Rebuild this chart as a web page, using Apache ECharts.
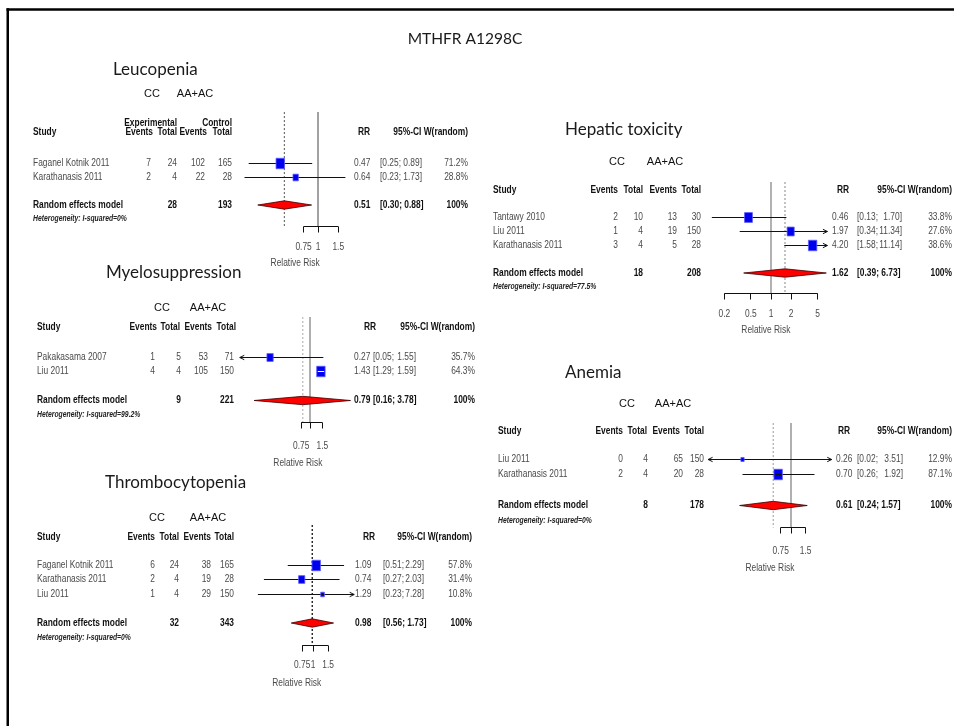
<!DOCTYPE html>
<html>
<head>
<meta charset="utf-8">
<script src="https://cdn.jsdelivr.net/npm/echarts@6/dist/echarts.min.js"></script>
<style>
  html, body { margin: 0; padding: 0; background: #fff; }
  #chart { width: 954px; height: 726px; }
</style>
</head>
<body>
<div id="chart"></div>
<script>
// ---------------- Leucopenia ----------------
const leuStudy = ['Faganel Kotnik 2011', 'Karathanasis 2011'];
const leuEventsCC = [7, 2];
const leuTotalCC = [24, 4];
const leuEventsAA = [102, 22];
const leuTotalAA = [165, 28];
const leuRR = [0.47, 0.64];
const leuLower = [0.25, 0.23];
const leuUpper = [0.89, 1.73];
const leuWeight = [71.2, 28.8];
const leuPooled = [0.51, 0.30, 0.88];      // RR, lower, upper
const leuPooledTotals = [28, 193];
const leuI2 = '0%';
const leuTicks = [0.75, 1, 1.5];
const leuTickLabels = ['0.75', '1', '1.5'];

// ---------------- Myelosuppression ----------------
const myeStudy = ['Pakakasama 2007', 'Liu 2011'];
const myeEventsCC = [1, 4];
const myeTotalCC = [5, 4];
const myeEventsAA = [53, 105];
const myeTotalAA = [71, 150];
const myeRR = [0.27, 1.43];
const myeLower = [0.05, 1.29];
const myeUpper = [1.55, 1.59];
const myeWeight = [35.7, 64.3];
const myePooled = [0.79, 0.16, 3.78];
const myePooledTotals = [9, 221];
const myeI2 = '99.2%';
const myeTicks = [0.75, 1, 1.5];
const myeTickLabels = ['0.75', '', '1.5'];

// ---------------- Thrombocytopenia ----------------
const thrStudy = ['Faganel Kotnik 2011', 'Karathanasis 2011', 'Liu 2011'];
const thrEventsCC = [6, 2, 1];
const thrTotalCC = [24, 4, 4];
const thrEventsAA = [38, 19, 29];
const thrTotalAA = [165, 28, 150];
const thrRR = [1.09, 0.74, 1.29];
const thrLower = [0.51, 0.27, 0.23];
const thrUpper = [2.29, 2.03, 7.28];
const thrWeight = [57.8, 31.4, 10.8];
const thrPooled = [0.98, 0.56, 1.73];
const thrPooledTotals = [32, 343];
const thrI2 = '0%';
const thrTicks = [0.75, 1, 1.5];
const thrTickLabels = ['0.75', '1', '1.5'];

// ---------------- Hepatic toxicity ----------------
const hepStudy = ['Tantawy 2010', 'Liu 2011', 'Karathanasis 2011'];
const hepEventsCC = [2, 1, 3];
const hepTotalCC = [10, 4, 4];
const hepEventsAA = [13, 19, 5];
const hepTotalAA = [30, 150, 28];
const hepRR = [0.46, 1.97, 4.20];
const hepLower = [0.13, 0.34, 1.58];
const hepUpper = [1.70, 11.34, 11.14];
const hepWeight = [33.8, 27.6, 38.6];
const hepPooled = [1.62, 0.39, 6.73];
const hepPooledTotals = [18, 208];
const hepI2 = '77.5%';
const hepTicks = [0.2, 0.5, 1, 2, 5];
const hepTickLabels = ['0.2', '0.5', '1', '2', '5'];

// ---------------- Anemia ----------------
const aneStudy = ['Liu 2011', 'Karathanasis 2011'];
const aneEventsCC = [0, 2];
const aneTotalCC = [4, 4];
const aneEventsAA = [65, 20];
const aneTotalAA = [150, 28];
const aneRR = [0.26, 0.70];
const aneLower = [0.02, 0.26];
const aneUpper = [3.51, 1.92];
const aneWeight = [12.9, 87.1];
const anePooled = [0.61, 0.24, 1.57];
const anePooledTotals = [8, 178];
const aneI2 = '0%';
const aneTicks = [0.75, 1, 1.5];
const aneTickLabels = ['0.75', '', '1.5'];

const groupLabels = ['CC', 'AA+AC'];
const mainTitle = 'MTHFR A1298C';

const panels = [
  {
    title: 'Leucopenia', study: leuStudy, e1: leuEventsCC, n1: leuTotalCC, e2: leuEventsAA, n2: leuTotalAA,
    rr: leuRR, lo: leuLower, hi: leuUpper, w: leuWeight, pooled: leuPooled, totals: leuPooledTotals,
    i2: leuI2, ticks: leuTicks, tickLabels: leuTickLabels, expHeader: true
  },
  {
    title: 'Myelosuppression', study: myeStudy, e1: myeEventsCC, n1: myeTotalCC, e2: myeEventsAA, n2: myeTotalAA,
    rr: myeRR, lo: myeLower, hi: myeUpper, w: myeWeight, pooled: myePooled, totals: myePooledTotals,
    i2: myeI2, ticks: myeTicks, tickLabels: myeTickLabels
  },
  {
    title: 'Thrombocytopenia', study: thrStudy, e1: thrEventsCC, n1: thrTotalCC, e2: thrEventsAA, n2: thrTotalAA,
    rr: thrRR, lo: thrLower, hi: thrUpper, w: thrWeight, pooled: thrPooled, totals: thrPooledTotals,
    i2: thrI2, ticks: thrTicks, tickLabels: thrTickLabels
  },
  {
    title: 'Hepatic toxicity', study: hepStudy, e1: hepEventsCC, n1: hepTotalCC, e2: hepEventsAA, n2: hepTotalAA,
    rr: hepRR, lo: hepLower, hi: hepUpper, w: hepWeight, pooled: hepPooled, totals: hepPooledTotals,
    i2: hepI2, ticks: hepTicks, tickLabels: hepTickLabels
  },
  {
    title: 'Anemia', study: aneStudy, e1: aneEventsCC, n1: aneTotalCC, e2: aneEventsAA, n2: aneTotalAA,
    rr: aneRR, lo: aneLower, hi: aneUpper, w: aneWeight, pooled: anePooled, totals: anePooledTotals,
    i2: aneI2, ticks: aneTicks, tickLabels: aneTickLabels
  }
];

// Placement of each forest plot: x1 = pixel of RR 1, k = pixels per natural-log unit,
// row1 = pixel of first study row, rowH = row pitch; rows/cols/head give text placement.
const layouts = [
  { titleX: 113, titleY: 70, x1: 318, k: 50, xlim: [0.1, 4], row1: 163, rowH: 14,
    rows: { cc: -3.93, exp: -1.86, head: -1.21, top: -2.64, axis: 5.5, tick: 7, label: 8.14 },
    col: { study: 33, ev1: 151, tot1: 177, ev2: 205, tot2: 232, rr: 354, rrHead: 358, ciL: 380, ciR: 422, w: 468, cc: 152, aa: 195 },
    head: [153, 177, 207, 232],
    nullColor: '#444', nullWidth: 1, dotColor: '#555', dotWidth: 1 },
  { titleX: 106, titleY: 273, x1: 310, k: 30.5, xlim: [0.1, 4.5], row1: 357, rowH: 14.5,
    rows: { cc: -2.38, head: -1.07, top: -1.76, axis: 5.55, tick: 7.14, label: 8.31 },
    col: { study: 37, ev1: 155, tot1: 181, ev2: 208, tot2: 234, rr: 354, rrHead: 364, ciL: 373, ciR: 416, w: 475, cc: 162, aa: 208 },
    head: [157, 180, 212, 236],
    nullColor: '#b0b0b0', nullWidth: 2, dotColor: '#aaa', dotWidth: 1 },
  { titleX: 105, titleY: 483, x1: 313, k: 37.5, xlim: [0.14, 3], row1: 565, rowH: 14.5,
    rows: { cc: -2.24, head: -0.93, top: -1.76, axis: 6.52, tick: 7.9, label: 9.14 },
    col: { study: 37, ev1: 155, tot1: 179, ev2: 211, tot2: 234, rr: 355, rrHead: 363, ciL: 383, ciR: 424, w: 472, cc: 157, aa: 208 },
    head: [155, 179, 211, 234],
    nullColor: 'rgba(0,0,0,0)', nullWidth: 1, dotColor: '#111', dotWidth: 1.3 },
  { titleX: 565, titleY: 130, x1: 771, k: 29, xlim: [0.1, 7], row1: 217, rowH: 14,
    rows: { cc: -2.93, head: -0.93, top: -1.5, axis: 6.43, tick: 7.93, label: 9.07 },
    col: { study: 493, ev1: 618, tot1: 643, ev2: 677, tot2: 701, rr: 832, rrHead: 837, ciL: 857, ciR: 902, w: 952, cc: 617, aa: 665 },
    head: [618, 643, 677, 701],
    nullColor: '#999', nullWidth: 1.5, dotColor: '#888', dotWidth: 1 },
  { titleX: 565, titleY: 373, x1: 791, k: 36, xlim: [0.1, 3.1], row1: 459, rowH: 15.5,
    rows: { cc: -2.55, head: -0.81, top: -1.32, axis: 5.39, tick: 6.94, label: 8.03 },
    col: { study: 498, ev1: 623, tot1: 648, ev2: 683, tot2: 704, rr: 836, rrHead: 838, ciL: 857, ciR: 903, w: 952, cc: 627, aa: 673 },
    head: [623, 647, 680, 704],
    nullColor: '#b0b0b0', nullWidth: 2, dotColor: '#999', dotWidth: 1 }
];

const Y_MIN = -5, Y_MAX = 11;
const BOX_H = 10.5;
const FONT = '"Liberation Sans", Arial, sans-serif';
const SX = 0.8;   // condensed table lettering

function txt(x, y, s, font, color, align, sx) {
  return {
    type: 'text', x: x, y: y, scaleX: sx == null ? SX : sx, silent: true,
    style: {
      text: s, x: 0, y: 0, font: font, fill: color,
      align: align || 'left', textAlign: align || 'left',
      verticalAlign: 'middle', textVerticalAlign: 'middle'
    }
  };
}
function seg(x1, y1, x2, y2, color, width, dash) {
  return {
    type: 'line', silent: true,
    shape: { x1: x1, y1: y1, x2: x2, y2: y2 },
    style: { stroke: color, lineWidth: width || 1, lineDash: dash || null }
  };
}
const crisp = v => Math.round(v - 0.5) + 0.5;

function studyRenderer(L, wMax) {
  return function (params, api) {
    const rr = api.value(0), lo = api.value(1), hi = api.value(2), w = api.value(3), row = api.value(4);
    const y = crisp(api.coord([1, row])[1]);
    const xa = api.coord([Math.max(lo, L.xlim[0]), row])[0];
    const xb = api.coord([Math.min(hi, L.xlim[1]), row])[0];
    const xc = api.coord([rr, row])[0];
    const h = BOX_H * Math.sqrt(w / wMax);
    const bw = h * 0.8;
    const inside = xa >= xc - bw / 2 && xb <= xc + bw / 2;
    const ch = [];
    ch.push(seg(xa, y, xb, y, '#111', 1));
    if (lo < L.xlim[0]) {
      ch.push(seg(xa, y, xa + 4.5, y - 2.2, '#111', 1));
      ch.push(seg(xa, y, xa + 4.5, y + 2.2, '#111', 1));
    }
    if (hi > L.xlim[1]) {
      ch.push(seg(xb, y, xb - 4.5, y - 2.2, '#111', 1));
      ch.push(seg(xb, y, xb - 4.5, y + 2.2, '#111', 1));
    }
    ch.push({
      type: 'rect', silent: true,
      shape: { x: xc - bw / 2, y: y - h / 2, width: bw, height: h },
      style: { fill: '#0000f0', stroke: '#5b5bff', lineWidth: 0.8 }
    });
    ch.push(seg(Math.max(xa, xc - bw / 2 + 0.8), y, Math.min(xb, xc + bw / 2 - 0.8), y, inside ? '#ffffff' : '#111', 1));
    return { type: 'group', children: ch };
  };
}

function panelRenderer(P, L) {
  return function (params, api) {
    const Y = r => api.coord([1, r])[1];
    const X = v => api.coord([v, 1])[0];
    const C = L.col, H = L.head;
    const n = P.study.length;
    const rowSum = n + 2, rowHet = n + 3;
    const ch = [];
    const fN = '10.5px ' + FONT, fB = 'bold 10.5px ' + FONT;
    const grey = '#4a4a4a';

    // reference lines: no effect and pooled estimate
    const yTop = Y(L.rows.top), yAx = crisp(Y(L.rows.axis));
    ch.push(seg(X(1), yTop, X(1), yAx, L.nullColor, L.nullWidth));
    ch.push(seg(X(P.pooled[0]), yTop, X(P.pooled[0]), yAx, L.dotColor, L.dotWidth, [2, 2]));

    // pooled diamond
    const ys = Y(rowSum);
    ch.push({
      type: 'polygon', silent: true,
      shape: { points: [[X(P.pooled[1]), ys], [X(P.pooled[0]), ys - 4.2], [X(P.pooled[2]), ys], [X(P.pooled[0]), ys + 4.2]] },
      style: { fill: '#ff0000', stroke: '#3a0000', lineWidth: 0.8 }
    });

    // relative-risk axis
    const t0 = X(P.ticks[0]), t1 = X(P.ticks[P.ticks.length - 1]);
    ch.push(seg(t0, yAx, t1, yAx, '#111', 1));
    P.ticks.forEach((t, i) => {
      const xt = crisp(X(t));
      ch.push(seg(xt, yAx, xt, yAx + 6, '#111', 1));
      if (P.tickLabels[i]) ch.push(txt(X(t), Y(L.rows.tick), P.tickLabels[i], fN, grey, 'center'));
    });
    ch.push(txt(X(Math.sqrt(L.xlim[0] * L.xlim[1])), Y(L.rows.label), 'Relative Risk', fN, grey, 'center'));

    // table header
    ch.push(txt(C.cc, Y(L.rows.cc), groupLabels[0], '11px ' + FONT, '#111', 'center', 1));
    ch.push(txt(C.aa, Y(L.rows.cc), groupLabels[1], '11px ' + FONT, '#111', 'center', 1));
    const yh = Y(L.rows.head);
    if (P.expHeader) {
      ch.push(txt(H[1], Y(L.rows.exp), 'Experimental', fB, '#111', 'right'));
      ch.push(txt(H[3], Y(L.rows.exp), 'Control', fB, '#111', 'right'));
    }
    ch.push(txt(C.study, yh, 'Study', fB, '#111', 'left'));
    ch.push(txt(H[0], yh, 'Events', fB, '#111', 'right'));
    ch.push(txt(H[1], yh, 'Total', fB, '#111', 'right'));
    ch.push(txt(H[2], yh, 'Events', fB, '#111', 'right'));
    ch.push(txt(H[3], yh, 'Total', fB, '#111', 'right'));
    ch.push(txt(C.rrHead, yh, 'RR', fB, '#111', 'left'));
    ch.push(txt(C.w, yh, '95%-CI W(random)', fB, '#111', 'right'));

    // study rows
    for (let i = 0; i < n; i++) {
      const y = Y(i + 1);
      ch.push(txt(C.study, y, P.study[i], fN, grey, 'left'));
      ch.push(txt(C.ev1, y, String(P.e1[i]), fN, grey, 'right'));
      ch.push(txt(C.tot1, y, String(P.n1[i]), fN, grey, 'right'));
      ch.push(txt(C.ev2, y, String(P.e2[i]), fN, grey, 'right'));
      ch.push(txt(C.tot2, y, String(P.n2[i]), fN, grey, 'right'));
      ch.push(txt(C.rr, y, P.rr[i].toFixed(2), fN, grey, 'left'));
      ch.push(txt(C.ciL, y, '[' + P.lo[i].toFixed(2) + ';', fN, grey, 'left'));
      ch.push(txt(C.ciR, y, P.hi[i].toFixed(2) + ']', fN, grey, 'right'));
      ch.push(txt(C.w, y, P.w[i].toFixed(1) + '%', fN, grey, 'right'));
    }

    // pooled row
    ch.push(txt(C.study, ys, 'Random effects model', fB, '#111', 'left'));
    ch.push(txt(C.tot1, ys, String(P.totals[0]), fB, '#111', 'right'));
    ch.push(txt(C.tot2, ys, String(P.totals[1]), fB, '#111', 'right'));
    ch.push(txt(C.rr, ys, P.pooled[0].toFixed(2), fB, '#111', 'left'));
    ch.push(txt(C.ciL, ys, '[' + P.pooled[1].toFixed(2) + '; ' + P.pooled[2].toFixed(2) + ']', fB, '#111', 'left'));
    ch.push(txt(C.w, ys, '100%', fB, '#111', 'right'));
    ch.push(txt(C.study, Y(rowHet), 'Heterogeneity: I-squared=' + P.i2, 'italic bold 8.5px ' + FONT, '#222', 'left'));

    return { type: 'group', children: ch };
  };
}

const grids = [], xAxes = [], yAxes = [], series = [];
const titleGraphics = [];
panels.forEach((P, idx) => {
  const L = layouts[idx];
  const left = L.x1 + L.k * Math.log(L.xlim[0]);
  const width = L.k * Math.log(L.xlim[1] / L.xlim[0]);
  const top = L.row1 + (Y_MIN - 1) * L.rowH;
  const height = (Y_MAX - Y_MIN) * L.rowH;
  grids.push({ left: left, top: top, width: width, height: height, containLabel: false, outerBoundsMode: 'none', show: false });
  xAxes.push({ type: 'log', logBase: 10, gridIndex: idx, min: L.xlim[0], max: L.xlim[1], show: false });
  yAxes.push({ type: 'value', gridIndex: idx, min: Y_MIN, max: Y_MAX, inverse: true, show: false });
  const wMax = Math.max.apply(null, P.w);
  series.push({
    type: 'custom', xAxisIndex: idx, yAxisIndex: idx, clip: false, silent: true,
    renderItem: panelRenderer(P, L),
    encode: { x: [0, 1, 2], y: 3 },
    data: [[P.pooled[0], P.pooled[1], P.pooled[2], P.study.length + 2]],
    z: 2
  });
  series.push({
    type: 'custom', xAxisIndex: idx, yAxisIndex: idx, clip: false, silent: true,
    renderItem: studyRenderer(L, wMax),
    encode: { x: [0, 1, 2], y: 4 },
    data: P.rr.map((v, i) => [v, P.lo[i], P.hi[i], P.w[i], i + 1]),
    z: 3
  });
  titleGraphics.push({
    type: 'text', x: L.titleX, y: L.titleY, silent: true,
    style: { text: P.title, font: '17px Lato, "Open Sans", sans-serif', fill: '#1a1a1a',
      align: 'left', textAlign: 'left', verticalAlign: 'middle', textVerticalAlign: 'middle' }
  });
});

const chart = echarts.init(document.getElementById('chart'), null, { renderer: 'canvas' });
chart.setOption({
  animation: false,
  backgroundColor: '#ffffff',
  grid: grids,
  xAxis: xAxes,
  yAxis: yAxes,
  series: series,
  graphic: [
    { type: 'line', silent: true, shape: { x1: 6.5, y1: 9.5, x2: 954, y2: 9.5 }, style: { stroke: '#000', lineWidth: 2.5 } },
    { type: 'line', silent: true, shape: { x1: 7.75, y1: 8.25, x2: 7.75, y2: 726 }, style: { stroke: '#000', lineWidth: 2.5 } },
    { type: 'text', x: 465, y: 39, silent: true,
      style: { text: mainTitle, font: '15.5px Lato, "Open Sans", sans-serif', fill: '#1a1a1a',
        align: 'center', textAlign: 'center', verticalAlign: 'middle', textVerticalAlign: 'middle' } }
  ].concat(titleGraphics)
});
</script>
</body>
</html>
